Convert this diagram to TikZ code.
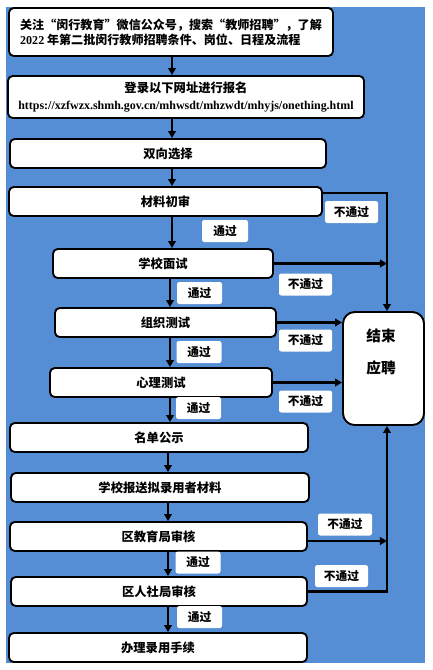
\documentclass[tikz,border=0pt]{standalone}
\usepackage{fontspec}
\newfontfamily\cjk{Noto Sans CJK SC}
\newfontfamily\latin{Liberation Serif}
\usetikzlibrary{arrows.meta}

\definecolor{bgblue}{RGB}{85,142,213}

\tikzset{
  stepbox/.style={draw, line width=1.6pt, rounded corners=4pt, fill=white,
    inner sep=0pt, align=center, font=\cjk\bfseries\fontsize{10.5}{13}\selectfont},
  tagbox/.style={fill=white, rounded corners=2pt, inner sep=0pt,
    minimum height=0.66cm, font=\cjk\bfseries\fontsize{10}{12}\selectfont},
  flow/.style={line width=1.8pt, -{Triangle[length=6pt,width=6.5pt]}},
  rail/.style={line width=1.8pt}
}

\begin{document}
\begin{tikzpicture}[x=0.03cm, y=-0.03cm]

  % Page and blue background.
  \useasboundingbox (0,0) rectangle (433,670);
  \fill[bgblue] (6,7) rectangle (425,663);

  % The steps, top to bottom.
  \node[stepbox, minimum width=9.72cm, minimum height=1.44cm, align=left,
    font=\cjk\bfseries\fontsize{10.3}{12.8}\selectfont] (notice) at (171,32)
    {关注“闵行教育”微信公众号，搜索“教师招聘”，了解\\
     {\latin\bfseries 2022} 年第二批闵行教师招聘条件、岗位、日程及流程};
  \node[stepbox, minimum width=10.68cm, minimum height=1.26cm,
    font=\cjk\bfseries\fontsize{10.5}{14.5}\selectfont] (signup) at (186,97)
    {登录以下网址进行报名\\
     {\latin\bfseries\fontsize{10.2}{12}\selectfont https://xzfwzx.shmh.gov.cn/mhwsdt/mhzwdt/mhyjs/onething.html}};
  \node[stepbox, minimum width=9.48cm, minimum height=0.87cm] (choose) at (168,153.5) {双向选择};
  \node[stepbox, minimum width=9.39cm, minimum height=0.87cm] (paper) at (165.5,201.5) {材料初审};
  \node[stepbox, minimum width=6.6cm, minimum height=0.87cm] (interview) at (163,263.5) {学校面试};
  \node[stepbox, minimum width=6.63cm, minimum height=0.87cm] (orgtest) at (165.5,322.5) {组织测试};
  \node[stepbox, minimum width=6.66cm, minimum height=0.87cm] (psytest) at (161,382.5) {心理测试};
  \node[stepbox, minimum width=8.94cm, minimum height=0.87cm] (publish) at (159,437.5) {名单公示};
  \node[stepbox, minimum width=8.94cm, minimum height=0.87cm] (report) at (160,487.5) {学校报送拟录用者材料};
  \node[stepbox, minimum width=8.91cm, minimum height=0.87cm] (edubureau) at (158.5,536.5) {区教育局审核};
  \node[stepbox, minimum width=8.88cm, minimum height=0.87cm] (hrbureau) at (159,591.5) {区人社局审核};
  \node[stepbox, minimum width=8.94cm, minimum height=0.87cm] (hire) at (158,647.5) {办理录用手续};

  % End box, text set high in it.
  \node[stepbox, rounded corners=10pt, minimum width=2.43cm, minimum height=3.39cm] (quit) at (383.5,368.5) {};
  \node[align=center, inner sep=0pt, font=\cjk\bfseries\fontsize{12.5}{27}\selectfont] (quittext) at (381,352) {结束\\应聘};

  % Spine and rail positions.
  \coordinate (spineA) at (172,0);
  \coordinate (spineB) at (170,0);
  \coordinate (spineC) at (168,0);
  \coordinate (railx) at (387,0);
  \coordinate (railtop) at (387,193);
  \coordinate (railedu) at (387,541);

  % Main flow.
  \draw[flow] (notice.south -| spineA) -- (signup.north -| spineA);
  \draw[flow] (signup.south -| spineA) -- (choose.north -| spineA);
  \draw[flow] (choose.south -| spineA) -- (paper.north -| spineA);
  \draw[flow] (paper.south -| spineA) -- (interview.north -| spineA);
  \draw[flow] (interview.south -| spineB) -- (orgtest.north -| spineB);
  \draw[flow] (orgtest.south -| spineB) -- (psytest.north -| spineB);
  \draw[flow] (psytest.south -| spineB) -- (publish.north -| spineB);
  \draw[flow] (publish.south -| spineC) -- (report.north -| spineC);
  \draw[flow] (report.south -| spineC) -- (edubureau.north -| spineC);
  \draw[flow] (edubureau.south -| spineC) -- (hrbureau.north -| spineC);
  \draw[flow] (hrbureau.south -| spineC) -- (hire.north -| spineC);

  % Rejections to the end box.
  \draw[flow, line join=miter] (railtop -| paper.east) -- (railtop) -- (quit.north -| railx);
  \draw[flow] (interview.east) -- (interview.east -| railx);
  \draw[flow] (orgtest.east) -- (orgtest.east -| quit.west);
  \draw[flow] (psytest.east) -- (psytest.east -| quit.west);
  \draw[flow] (railedu -| edubureau.east) -- (railedu);
  \draw[flow, line join=miter] (hrbureau.east) -- (hrbureau.east -| railx) -- (quit.south -| railx);

  % Pass tags.
  \node[tagbox, minimum width=1.38cm] (passA) at (225,231) {通过};
  \node[tagbox, minimum width=1.35cm] (passB) at (199.5,293) {通过};
  \node[tagbox, minimum width=1.35cm] (passC) at (199,352) {通过};
  \node[tagbox, minimum width=1.35cm] (passD) at (198.5,408) {通过};
  \node[tagbox, minimum width=1.35cm] (passE) at (198,562.5) {通过};
  \node[tagbox, minimum width=1.35cm] (passF) at (199.5,617) {通过};

  % Fail tags.
  \node[tagbox, minimum width=1.59cm] (failA) at (351.5,212) {不通过};
  \node[tagbox, minimum width=1.59cm] (failB) at (305.5,284.5) {不通过};
  \node[tagbox, minimum width=1.59cm] (failC) at (305.5,340.5) {不通过};
  \node[tagbox, minimum width=1.59cm] (failD) at (305.5,401.5) {不通过};
  \node[tagbox, minimum width=1.62cm] (failE) at (345,524.5) {不通过};
  \node[tagbox, minimum width=1.59cm] (failF) at (341.5,576) {不通过};

\end{tikzpicture}
\end{document}
